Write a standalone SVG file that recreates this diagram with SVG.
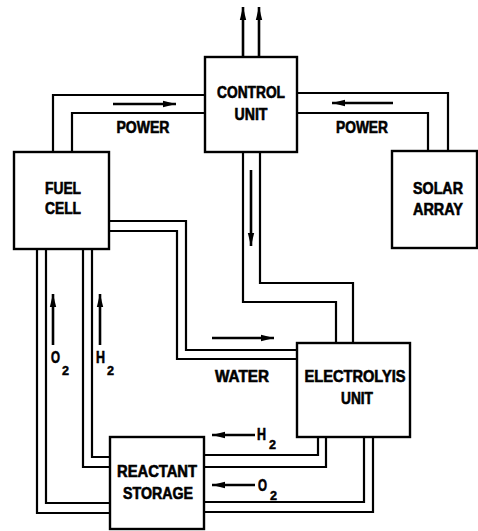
<svg xmlns="http://www.w3.org/2000/svg" width="478" height="531" viewBox="0 0 478 531">
<style>
.box{fill:#fff;stroke:#000;stroke-width:2.4}
.pipe{fill:none;stroke:#000;stroke-width:2.2}
.arr{fill:none;stroke:#000;stroke-width:2.6;marker-end:url(#ah)}
.t{font-family:"Liberation Sans",Arial,sans-serif;font-weight:bold;font-size:16px;fill:#000;stroke:#000;stroke-width:0.6;text-anchor:middle}
.s{font-family:"Liberation Sans",Arial,sans-serif;font-weight:bold;font-size:16px;fill:#000;stroke:#000;stroke-width:0.6}
.sub{font-family:"Liberation Sans",Arial,sans-serif;font-weight:bold;font-size:13px;fill:#000;stroke:#000;stroke-width:0.5}
</style>
<defs>
<marker id="ah" markerUnits="userSpaceOnUse" markerWidth="14" markerHeight="8" refX="13" refY="4" orient="auto">
<path d="M0,0.8 L13,4 L0,7.2 Z" fill="#000"/>
</marker>
</defs>
<g id="connectors">
<polyline class="pipe" points="205,95 53,95 53,152"/>
<polyline class="pipe" points="205,113 72,113 72,152"/>
<polyline class="pipe" points="297,93 448,93 448,151"/>
<polyline class="pipe" points="297,113 428,113 428,151"/>
<polyline class="pipe" points="243,152 243,302 336,302 336,343"/>
<polyline class="pipe" points="260,152 260,283 353,283 353,343"/>
<polyline class="pipe" points="109,221 186,221 186,350 297,350"/>
<polyline class="pipe" points="109,231 177,231 177,359 297,359"/>
<polyline class="pipe" points="37,249 37,513 110,513"/>
<polyline class="pipe" points="46,249 46,503 110,503"/>
<polyline class="pipe" points="83,249 83,467 110,467"/>
<polyline class="pipe" points="92,249 92,457 110,457"/>
<polyline class="pipe" points="318,437 318,455 204,455"/>
<polyline class="pipe" points="326,437 326,467 204,467"/>
<polyline class="pipe" points="364,437 364,502 204,502"/>
<polyline class="pipe" points="373,437 373,512 204,512"/>
<line class="arr" x1="243" y1="57" x2="243" y2="7"/>
<line class="arr" x1="259" y1="57" x2="259" y2="7"/>
<line class="arr" x1="251" y1="170" x2="251" y2="246"/>
<line class="arr" x1="113" y1="104" x2="176" y2="104"/>
<line class="arr" x1="393" y1="103" x2="332" y2="103"/>
<line class="arr" x1="212" y1="338" x2="274" y2="338"/>
<line class="arr" x1="53" y1="345" x2="53" y2="294"/>
<line class="arr" x1="100" y1="345" x2="100" y2="294"/>
<line class="arr" x1="255" y1="435" x2="212" y2="435"/>
<line class="arr" x1="255" y1="485" x2="212" y2="485"/>
</g>
<g id="control-unit">
<rect class="box" x="205" y="57" width="92" height="95"/>
<text class="t" x="251" y="98" textLength="68" lengthAdjust="spacingAndGlyphs">CONTROL</text>
<text class="t" x="251" y="120" textLength="33" lengthAdjust="spacingAndGlyphs">UNIT</text>
</g>
<g id="fuel-cell">
<rect class="box" x="14" y="152" width="95" height="97"/>
<text class="t" x="63" y="194" textLength="36" lengthAdjust="spacingAndGlyphs">FUEL</text>
<text class="t" x="63" y="214" textLength="36" lengthAdjust="spacingAndGlyphs">CELL</text>
</g>
<g id="solar-array">
<rect class="box" x="392" y="151" width="85" height="97"/>
<text class="t" x="438" y="194" textLength="50" lengthAdjust="spacingAndGlyphs">SOLAR</text>
<text class="t" x="438" y="215" textLength="50" lengthAdjust="spacingAndGlyphs">ARRAY</text>
</g>
<g id="electrolysis-unit">
<rect class="box" x="297" y="343" width="113" height="94"/>
<text class="t" x="355" y="382" textLength="101" lengthAdjust="spacingAndGlyphs">ELECTROLYIS</text>
<text class="t" x="357" y="404" textLength="32" lengthAdjust="spacingAndGlyphs">UNIT</text>
</g>
<g id="reactant-storage">
<rect class="box" x="110" y="437" width="94" height="92"/>
<text class="t" x="157" y="477" textLength="80" lengthAdjust="spacingAndGlyphs">REACTANT</text>
<text class="t" x="158" y="499" textLength="70" lengthAdjust="spacingAndGlyphs">STORAGE</text>
</g>
<g id="labels">
<text class="t" x="143" y="133" textLength="53" lengthAdjust="spacingAndGlyphs">POWER</text>
<text class="t" x="362" y="133" textLength="52" lengthAdjust="spacingAndGlyphs">POWER</text>
<text class="t" x="242" y="382" textLength="54" lengthAdjust="spacingAndGlyphs">WATER</text>
<text class="s" x="51" y="363" textLength="9" lengthAdjust="spacingAndGlyphs">O</text>
<text class="sub" x="62" y="375" textLength="7" lengthAdjust="spacingAndGlyphs">2</text>
<text class="s" x="96" y="363" textLength="9" lengthAdjust="spacingAndGlyphs">H</text>
<text class="sub" x="107" y="375" textLength="7" lengthAdjust="spacingAndGlyphs">2</text>
<text class="s" x="257" y="440" textLength="9" lengthAdjust="spacingAndGlyphs">H</text>
<text class="sub" x="269" y="449" textLength="7" lengthAdjust="spacingAndGlyphs">2</text>
<text class="s" x="258" y="491" textLength="9" lengthAdjust="spacingAndGlyphs">O</text>
<text class="sub" x="270" y="500" textLength="7" lengthAdjust="spacingAndGlyphs">2</text>
</g>
</svg>
